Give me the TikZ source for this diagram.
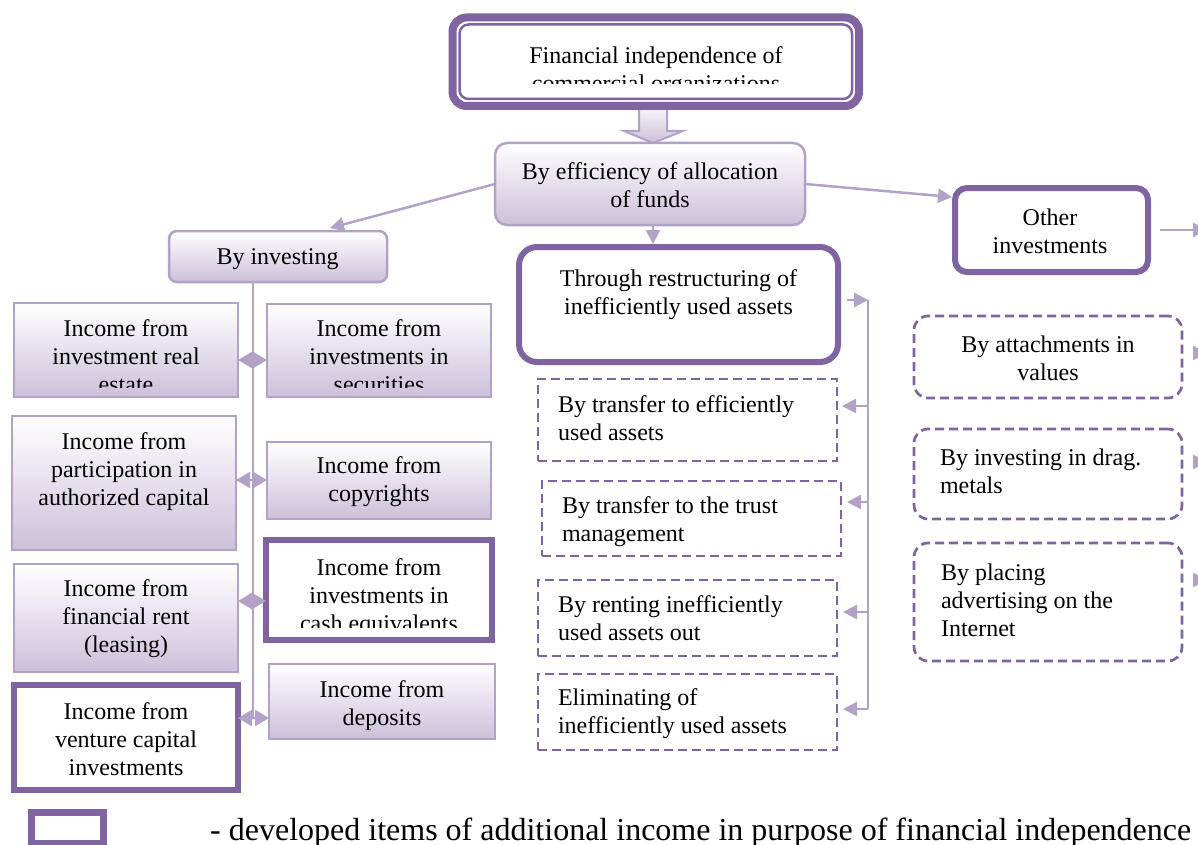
\documentclass[tikz,border=0pt]{standalone}
\usepackage{fontspec}
\setmainfont{Liberation Serif}
\usetikzlibrary{arrows.meta,calc}
\definecolor{pdark}{RGB}{128,100,162}
\definecolor{plight}{RGB}{179,162,199}
\definecolor{pgrad}{RGB}{204,192,218}
\tikzset{
 boxbase/.style={rectangle, inner sep=0, outer sep=0, anchor=center},
 gbox/.style={boxbase, draw=plight, line width=2.5, top color=white, bottom color=pgrad},
 tbox/.style={boxbase, draw=pdark, line width=6, fill=white},
 dbox/.style={boxbase, draw=pdark, line width=2.7, dash pattern=on 9pt off 5pt, fill=white},
 lbl/.style={inner sep=0, outer sep=0, align=center, font=\fontsize{24}{28}\selectfont, anchor=north},
 lbll/.style={lbl, align=left, anchor=north west},
 conn/.style={draw=plight, line width=2.5},
 arr/.style={conn, -{Triangle[length=14pt,width=14pt]}},
 dtip/.style={conn, -{Triangle[length=14pt,width=16pt]}},
}
\begin{document}
\begin{tikzpicture}[x=1pt,y=-1pt]
\clip (0,0) rectangle (1198,845);
\fill[white] (0,0) rectangle (1198,845);

% block arrow
\shade[top color=white, bottom color=pgrad, draw=plight, line width=2]
  (639,100) -- (667,100) -- (667,131) -- (683,131) -- (653,143) -- (624,131) -- (639,131) -- cycle;

% top box
\node[boxbase, draw=pdark, line width=8, fill=white, rounded corners=14, minimum width=406.5, minimum height=88.5] (top) at (655.75,61.75) {};
\draw[pdark, line width=2.5, rounded corners=9] ([shift={(7,7)}]top.north west) rectangle ([shift={(-7,-7)}]top.south east);
\begin{scope}
\clip (459,24) rectangle (852,84);
\node[lbl] (ttop) at (656,46.6) {Financial independence of\\commercial organizations};
\end{scope}

% boxes
\node[gbox, rounded corners=12, minimum width=310, minimum height=82] (eff) at (650,184) {};
\node[gbox, rounded corners=8, minimum width=218, minimum height=51] (invest) at (278,256.5) {};
\node[gbox, minimum width=224, minimum height=94] (re) at (126,350) {};
\node[gbox, minimum width=224, minimum height=93] (sec) at (379,350.5) {};
\node[gbox, minimum width=224, minimum height=134] (cap) at (124,483) {};
\node[gbox, minimum width=224, minimum height=77] (copy) at (379,480.5) {};
\node[gbox, minimum width=224, minimum height=108] (rent) at (126,618) {};
\node[gbox, minimum width=226, minimum height=75] (dep) at (382,701.5) {};
\node[tbox, minimum width=226, minimum height=100] (cash) at (379,590) {};
\node[tbox, minimum width=224, minimum height=105] (vent) at (126,737.5) {};
\node[tbox, rounded corners=18, minimum width=319, minimum height=115] (thr) at (678.5,304.5) {};
\node[tbox, rounded corners=12, minimum width=193, minimum height=84] (oth) at (1051.5,230) {};
\node[dbox, minimum width=299, minimum height=82] (d1) at (687.5,420) {};
\node[dbox, minimum width=299, minimum height=75] (d2) at (691.5,518.5) {};
\node[dbox, minimum width=299, minimum height=76] (d3) at (687.5,618) {};
\node[dbox, minimum width=299, minimum height=76] (d4) at (687.5,712) {};
\node[dbox, rounded corners=14, minimum width=268, minimum height=82] (r1) at (1048,357) {};
\node[dbox, rounded corners=14, minimum width=268, minimum height=90] (r2) at (1048,474) {};
\node[dbox, rounded corners=14, minimum width=268, minimum height=118] (r3) at (1048,602) {};

% texts
\node[lbl] (teff) at (650,162.6) {By efficiency of allocation\\of funds};
\node[lbl] (tinv) at (277.5,248.6) {By investing};
\begin{scope}
\clip (14,303) rectangle (238,387);
\node[lbl] (tre) at (126,319.6) {Income from\\investment real\\estate};
\end{scope}
\begin{scope}
\clip (267,304) rectangle (491,387);
\node[lbl] (tsec) at (379,319.6) {Income from\\investments in\\securities};
\end{scope}
\node[lbl] (tcap) at (124,432.6) {Income from\\participation in\\authorized capital};
\node[lbl] (tcopy) at (379,456.6) {Income from\\copyrights};
\node[lbl] (trent) at (126,579.6) {Income from\\financial rent\\(leasing)};
\begin{scope}
\clip (266,540) rectangle (492,627);
\node[lbl] (tcash) at (379,558.6) {Income from\\investments in\\cash equivalents};
\end{scope}
\node[lbl] (tvent) at (126,702.6) {Income from\\venture capital\\investments};
\node[lbl] (tdep) at (382,680.6) {Income from\\deposits};
\node[lbl] (tthr) at (678.5,269.6) {Through restructuring of\\inefficiently used assets};
\node[lbll] (td1) at (558,395.6) {By transfer to efficiently\\used assets};
\node[lbll] (td2) at (562,496.6) {By transfer to the trust\\management};
\node[lbll] (td3) at (558,595.6) {By renting inefficiently\\used assets out};
\node[lbll] (td4) at (558,688.6) {Eliminating of\\inefficiently used assets};
\node[lbl] (toth) at (1050,208.6) {Other\\investments};
\node[lbl] (tr1) at (1048,335.6) {By attachments in\\values};
\node[lbll] (tr2) at (940,448.6) {By investing in drag.\\metals};
\node[lbll] (tr3) at (941,563.6) {By placing\\advertising on the\\Internet};

% connectors
\draw[arr] (eff.west) -- ($(invest.north)+(52,-3)$);
\draw[arr] (eff.east) -- ($(oth.north west)+(-3,9)$);
\draw[arr, shorten >=3pt] ([xshift=3]eff.south) -- ([xshift=3]eff.south |- thr.north);

\coordinate (e0) at (1207,230);
\coordinate (e1) at (1207,353);
\coordinate (e2) at (1207,462);
\coordinate (e3) at (1207,580);
\draw[arr] ([xshift=12]oth.east) -- (e0);
\draw[arr] ([xshift=11]r1.east |- e1) -- (e1);
\draw[arr] ([xshift=11]r2.east |- e2) -- (e2);
\draw[arr] ([xshift=11]r3.east |- e3) -- (e3);

\coordinate (bt) at (868,300);
\coordinate (b1) at (868,406);
\coordinate (b2) at (868,502);
\coordinate (b3) at (868,612);
\coordinate (b4) at (868,709);
\draw[arr] ([xshift=9]thr.east |- bt) -- (bt);
\draw[conn] (bt) -- (b4);
\draw[arr] (b1) -- ([xshift=5]d1.east |- b1);
\draw[arr] (b2) -- ([xshift=6]d2.east |- b2);
\draw[arr] (b3) -- ([xshift=6]d3.east |- b3);
\draw[arr] (b4) -- ([xshift=6]d4.east |- b4);

\coordinate (j1) at (253,360);
\coordinate (j2) at (253,480);
\coordinate (j3) at (253,601);
\coordinate (j4) at (253,718);
\draw[conn] (invest.south -| j1) -- (j4);
\draw[dtip] (j1) -- (re.east |- j1);
\draw[dtip] (j1) -- (sec.west |- j1);
\draw[dtip] (j2) -- (cap.east |- j2);
\draw[dtip] (j2) -- (copy.west |- j2);
\draw[dtip] (j3) -- (rent.east |- j3);
\draw[dtip] (j3) -- (cash.west |- j3);
\draw[dtip] (j4) -- (vent.east |- j4);
\draw[dtip] (j4) -- (dep.west |- j4);

% legend
\node[tbox, line width=7, minimum width=72, minimum height=31] (leg) at (67.5,828) {};
\node[inner sep=0, anchor=base west, font=\fontsize{32}{38}\selectfont] (legt) at (210,840) {- developed items of additional income in purpose of financial independence};
\end{tikzpicture}
\end{document}
